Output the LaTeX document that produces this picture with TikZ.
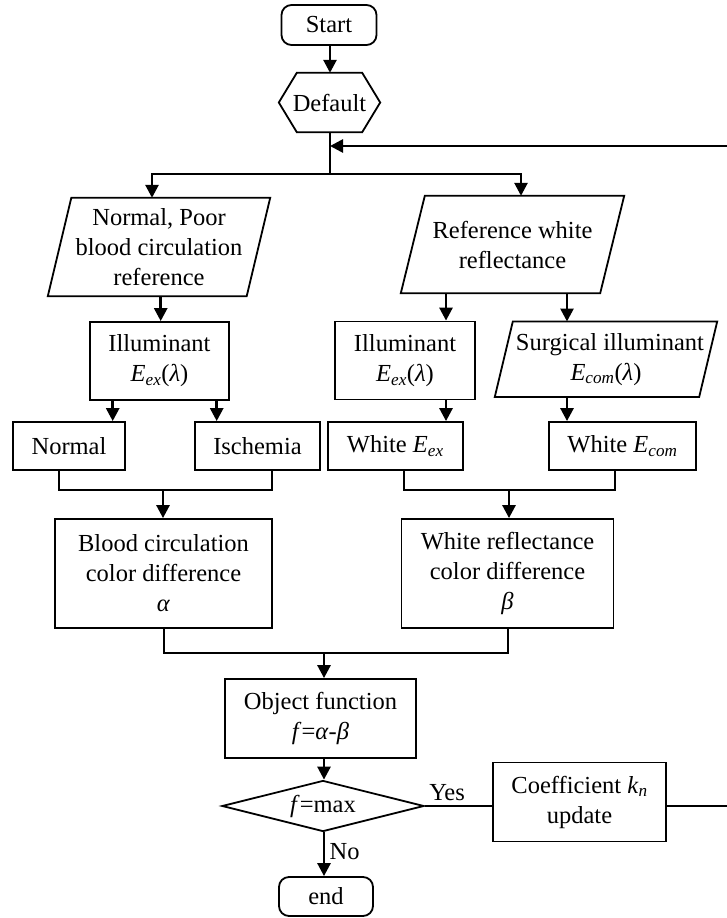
\documentclass[tikz,border=0pt]{standalone}
\usepackage{fontspec}
\setmainfont{Liberation Serif}
\usetikzlibrary{arrows.meta,shapes.geometric}
\newcommand\Esub[1]{\textit{E}\textsubscript{\textit{#1}}}
\begin{document}
\begin{tikzpicture}[x=1pt,y=-1pt,
  txt/.style={font=\fontsize{24.5}{30}\selectfont},
  frame/.style={line width=1.8pt, line join=miter},
  box/.style={txt, draw, frame, inner sep=0pt, align=center},
  plain/.style={txt, inner sep=0pt, align=center},
  term/.style={box, rounded corners=10pt},
  link/.style={line width=2.7pt},
  arr/.style={link, -{Triangle[length=13pt,width=13pt]}}]
\useasboundingbox (0,0) rectangle (726,918);

% terminals and decision
\node[term, minimum width=95pt, minimum height=40pt] (start) at (329,25) {Start};
\node[plain, minimum width=101pt, minimum height=59pt] (def) at (329.5,102.5) {Default};
\draw[frame] ([xshift=18pt]def.north west) -- ([xshift=-18pt]def.north east) -- (def.east)
  -- ([xshift=-18pt]def.south east) -- ([xshift=18pt]def.south west) -- (def.west) -- cycle;

% input data (parallelograms)
\node[plain, minimum width=222pt, minimum height=98pt] (npr) at (159,247)
  {Normal, Poor\\blood circulation\\reference};
\draw[frame] ([xshift=23.5pt]npr.north west) -- (npr.north east)
  -- ([xshift=-23.5pt]npr.south east) -- (npr.south west) -- cycle;
\node[plain, minimum width=223pt, minimum height=97pt] (rwr) at (512.5,244.5)
  {Reference white\\reflectance};
\draw[frame] ([xshift=24pt]rwr.north west) -- (rwr.north east)
  -- ([xshift=-24pt]rwr.south east) -- (rwr.south west) -- cycle;
\node[plain, minimum width=222pt, minimum height=75pt] (surg) at (606,359.2)
  {\hspace*{8pt}Surgical illuminant\\\Esub{com}(\textit{λ})};
\draw[frame] ([xshift=18pt]surg.north west) -- (surg.north east)
  -- ([xshift=-18pt]surg.south east) -- (surg.south west) -- cycle;

% process boxes
\node[box, minimum width=139pt, minimum height=78pt] (illL) at (159.5,361) {Illuminant\\\Esub{ex}(\textit{λ})};
\node[box, minimum width=140pt, minimum height=78pt] (illR) at (405,360.5) {Illuminant\\\Esub{ex}(\textit{λ})};
\node[box, minimum width=112pt, minimum height=48pt] (nor) at (69,446) {Normal};
\node[box, minimum width=125pt, minimum height=48pt] (isc) at (257.5,446) {Ischemia};
\node[box, minimum width=135pt, minimum height=48pt] (wex) at (395.3,446) {White \Esub{ex}};
\node[box, minimum width=147pt, minimum height=48pt] (wcom) at (622.5,446) {White \Esub{com}};
\node[box, minimum width=217pt, minimum height=109pt] (blood) at (163.5,573.5)
  {Blood circulation\\color difference\\\textit{α}};
\node[box, minimum width=212pt, minimum height=109pt] (wref) at (507.5,573.5)
  {White reflectance\\color difference\\\textit{β}};
\node[box, minimum width=191pt, minimum height=79pt] (obj) at (320.5,718.5)
  {Object function\\\textit{f}=\textit{α}-\textit{β}};
\node[txt, draw, frame, diamond, aspect=4, inner sep=0pt, minimum width=202pt, minimum height=51pt]
  (dec) at (323,806) {\textit{f}=max};
\node[box, minimum width=173pt, minimum height=79pt] (coef) at (579.5,802)
  {Coefficient \textit{k}\textsubscript{\textit{n}}\\update};
\node[term, minimum width=94pt, minimum height=39pt] (fin) at (326,896.5) {end};

% junction points
\coordinate (split) at (330,174);
\coordinate (loopin) at (330,146);
\coordinate (rc1) at (734,806);
\coordinate (rc2) at (734,146);
\coordinate (jL) at (163,490);
\coordinate (jR) at (509,490);
\coordinate (jB) at (324,653);

% top section
\draw[arr] (start.south -| 330,0) -- (def.north -| 330,0);
\draw[link] (def.south -| split) -- (split);
\draw[arr] (split) -| (npr.north -| 152,0);
\draw[arr] (split) -| (rwr.north -| 521,0);
\draw[link] (coef.east |- rc1) -- (rc1) -- (rc2);
\draw[arr] (rc2) -- (loopin);

% second row
\draw[arr] (npr.south -| 160.7,0) -- (illL.north -| 160.7,0);
\draw[arr] (rwr.south -| 446,0) -- (illR.north -| 446,0);
\draw[arr] (rwr.south -| 567,0) -- (surg.north -| 567,0);
\draw[arr] (illL.south -| 112.7,0) -- (nor.north -| 112.7,0);
\draw[arr] (illL.south -| 216.7,0) -- (isc.north -| 216.7,0);
\draw[arr] (illR.south -| 446,0) -- (wex.north -| 446,0);
\draw[arr] (surg.south -| 567,0) -- (wcom.north -| 567,0);

% merging into colour differences
\draw[link] (nor.south -| 59,0) |- (jL) -| (isc.south -| 272,0);
\draw[arr] (jL) -- (blood.north -| jL);
\draw[link] (wex.south -| 404,0) |- (jR) -| (wcom.south -| 615,0);
\draw[arr] (jR) -- (wref.north -| jR);
\draw[link] (blood.south -| 164,0) |- (jB) -| (wref.south -| 508,0);
\draw[arr] (jB) -- (obj.north -| jB);

% decision
\draw[arr] (obj.south -| 324,0) -- (dec.north -| 324,0);
\draw[link] (dec.east) -- node[txt, above=1pt, pos=0.33] {Yes} (dec.east -| coef.west);
\draw[arr] (dec.south -| 324,0) -- node[txt, right=1pt, pos=0.45] {No} (fin.north -| 324,0);
\end{tikzpicture}
\end{document}
